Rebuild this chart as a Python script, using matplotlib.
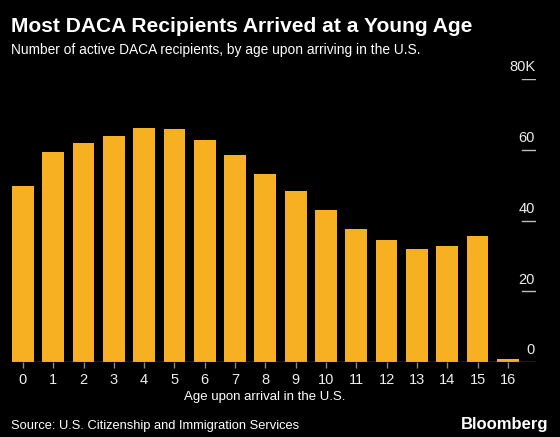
import matplotlib
matplotlib.use("Agg")
import matplotlib.pyplot as plt

ages = list(range(17))
recipients_k = [49.7, 59.5, 61.8, 63.9, 66.2, 65.8, 62.8, 58.4, 53.2, 48.2,
                43.0, 37.5, 34.6, 31.9, 32.9, 35.6, 0.8]
y_ticks = [0, 20, 40, 60, 80]
y_labels = ["0", "20", "40", "60", "80K"]

title = "Most DACA Recipients Arrived at a Young Age"
subtitle = "Number of active DACA recipients, by age upon arriving in the U.S."
xlabel = "Age upon arrival in the U.S."
source = "Source: U.S. Citizenship and Immigration Services"

W, H = 560, 437
fig = plt.figure(figsize=(W / 100, H / 100), dpi=100, facecolor="black")
plt.rcParams["font.family"] = ["Liberation Sans", "DejaVu Sans"]

left, right, bottom_px, top_px = 12, 536, 362, 79
ax = fig.add_axes([left / W, 1 - bottom_px / H, (right - left) / W, (bottom_px - top_px) / H])
ax.set_facecolor("black")
ax.bar(ages, recipients_k, width=0.72, color="#F6B021", zorder=2)
ax.set_xlim(-0.36, 16.93)
ax.set_ylim(0, 80)
for s in ax.spines.values():
    s.set_visible(False)
ax.axhline(0, color="#8a8a8a", lw=1, zorder=3)
ax.set_yticks([])
ax.set_xticks(ages)
ax.set_xticklabels([str(a) for a in ages], fontsize=10.5)
ax.tick_params(axis="x", colors="#8a8a8a", length=4, width=1, pad=4, labelcolor="#eeeeee")

for v, lab in zip(y_ticks, y_labels):
    if v > 0:
        ax.axhline(v, xmin=0.973, xmax=0.998, color="#bdbdbd", lw=1)
    ax.text(0.999 if v == 80 else 0.998, v + 1.3, lab, transform=ax.get_yaxis_transform(),
            ha="right", va="bottom", color="#eeeeee", fontsize=10.5,
            clip_on=False)

fig.text(265 / W, 1 - 397 / H, xlabel, ha="center", va="center", color="white", fontsize=9.5)
fig.text(11 / W, 1 - 27 / H, title, ha="left", va="center", color="white",
         fontsize=15.1, fontweight="bold")
fig.text(11 / W, 1 - 50 / H, subtitle, ha="left", va="center", color="white", fontsize=9.9)
fig.text(11 / W, 1 - 426 / H, source, ha="left", va="center", color="white", fontsize=9.3)
fig.text(548 / W, 1 - 425 / H, "Bloomberg", ha="right", va="center", color="white",
         fontsize=12, fontweight="bold")

fig.savefig("out.png", dpi=100, facecolor="black")
